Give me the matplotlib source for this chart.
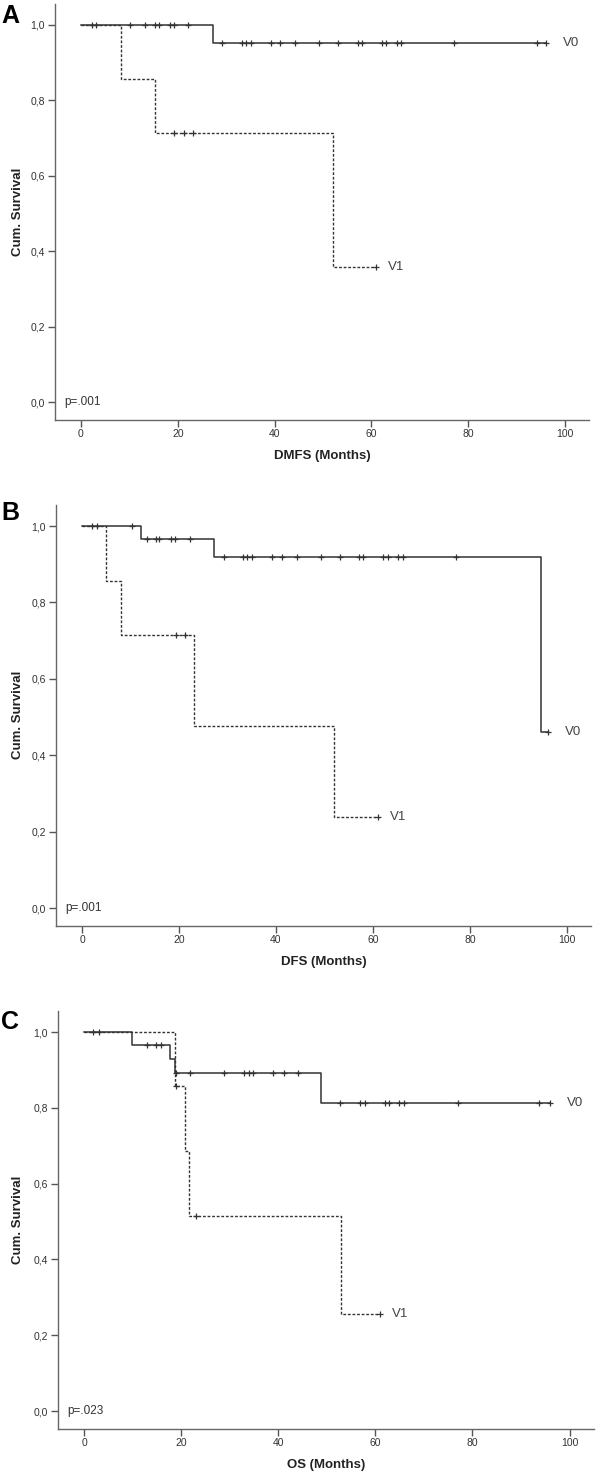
import matplotlib.pyplot as plt
import numpy as np

plt.rcParams['font.family'] = ['Liberation Sans', 'DejaVu Sans']

# ------------ DATA (months, cumulative survival) -------------
# Panel A - DMFS
dmfs_v0_events = [27.2]
dmfs_v0_surv = [0.952]
dmfs_v0_censored = [2.2, 3.1, 10.1, 13.2, 15.3, 16.2, 18.4, 19.3, 22.2,
                    29.2, 33.2, 34.1, 35.1, 39.2, 41.2, 44.3, 49.2, 53.2,
                    57.2, 58.0, 62.1, 63.0, 65.2, 66.1, 77.1, 94.2, 96.1]
dmfs_v1_events = [8.2, 15.3, 52.1]
dmfs_v1_surv = [0.857, 0.714, 0.357]
dmfs_v1_censored = [19.3, 21.3, 23.1, 61.0]

# Panel B - DFS
dfs_v0_events = [12.1, 27.3, 94.6]
dfs_v0_surv = [0.966, 0.920, 0.460]
dfs_v0_censored = [2.1, 3.0, 10.3, 13.3, 15.2, 15.9, 18.3, 19.2, 22.3,
                   29.2, 33.2, 34.1, 35.1, 39.2, 41.2, 44.3, 49.2, 53.2,
                   57.2, 58.0, 62.1, 63.0, 65.2, 66.1, 77.1, 96.1]
dfs_v1_events = [5.0, 8.0, 23.0, 52.0]
dfs_v1_surv = [0.857, 0.714, 0.476, 0.238]
dfs_v1_censored = [19.3, 21.3, 61.0]

# Panel C - OS
os_v0_events = [9.8, 17.8, 18.8, 48.9]
os_v0_surv = [0.967, 0.929, 0.891, 0.812]
os_v0_censored = [1.9, 3.0, 12.9, 14.9, 15.9, 19.0, 21.9, 28.9, 32.9, 33.9,
                  34.9, 39.0, 41.1, 44.0, 52.8, 56.9, 57.8, 61.9, 62.8, 64.8,
                  65.9, 77.0, 93.8, 95.9]
os_v1_events = [18.7, 20.9, 21.7, 53.0]
os_v1_surv = [0.857, 0.686, 0.514, 0.257]
os_v1_censored = [18.9, 23.0, 61.0]

panel_letters = ['A', 'B', 'C']
x_labels = ['DMFS (Months)', 'DFS (Months)', 'OS (Months)']
p_values = ['p=.001', 'p=.001', 'p=.023']
x_ticks = [0, 20, 40, 60, 80, 100]
y_ticks = [0.0, 0.2, 0.4, 0.6, 0.8, 1.0]
y_tick_labels = ['0,0', '0,2', '0,4', '0,6', '0,8', '1,0']

panels = [
    (dmfs_v0_events, dmfs_v0_surv, dmfs_v0_censored,
     dmfs_v1_events, dmfs_v1_surv, dmfs_v1_censored),
    (dfs_v0_events, dfs_v0_surv, dfs_v0_censored,
     dfs_v1_events, dfs_v1_surv, dfs_v1_censored),
    (os_v0_events, os_v0_surv, os_v0_censored,
     os_v1_events, os_v1_surv, os_v1_censored),
]

# ------------ LAYOUT (pixels) -------------
W, H = 600, 1478
XLIM = (-5.4, 105.0)
YLIM = (-0.047, 1.056)
# (pixel x of 0 months, pixel x of 100 months, pixel y of 1.0, pixel y of 0.0)
layout = [(81, 565, 25, 402), (82, 567, 526, 908), (84, 569.5, 1032, 1411)]
letter_y = [16, 513, 1022]

LINE = '#333333'


def km_curve(events, surv, censored):
    times = [0.0] + list(events)
    levels = [1.0] + list(surv)
    end = max(list(censored) + list(events))
    times.append(end)
    levels.append(levels[-1])
    # survival at each censored time
    idx = np.searchsorted(np.array(events), np.array(censored), side='right')
    cens_y = np.array([1.0] + list(surv))[idx]
    return times, levels, cens_y


fig = plt.figure(figsize=(W / 100, H / 100), dpi=100)

for i, data in enumerate(panels):
    x0, x100, y1, y0 = layout[i]
    px_x = (x100 - x0) / 100.0
    px_y = (y0 - y1)
    left = x0 + XLIM[0] * px_x
    right = x0 + XLIM[1] * px_x
    top = y1 - (YLIM[1] - 1.0) * px_y
    bottom = y0 - YLIM[0] * px_y
    ax = fig.add_axes([left / W, 1 - bottom / H, (right - left) / W, (bottom - top) / H])

    v0e, v0s, v0c, v1e, v1s, v1c = data

    # V1 dashed first so V0 sits on top
    t, s, cy = km_curve(v1e, v1s, v1c)
    ax.step(t, s, where='post', color=LINE, lw=1.0, linestyle=(0, (2, 1.3)))
    ax.plot(v1c, cy, linestyle='none', marker='+', ms=5, mew=0.9, color=LINE)
    ax.text(63.5, s[-1], 'V1', fontsize=9.5, color='#444444', va='center', ha='left')

    t, s, cy = km_curve(v0e, v0s, v0c)
    ax.step(t, s, where='post', color=LINE, lw=1.1)
    ax.plot(v0c, cy, linestyle='none', marker='+', ms=5, mew=0.9, color=LINE)
    ax.text(99.5, s[-1], 'V0', fontsize=9.5, color='#444444', va='center', ha='left')

    ax.text(-3.5, 0.0, p_values[i], fontsize=8.5, color='#333333', va='center', ha='left')

    ax.set_xlim(XLIM)
    ax.set_ylim(YLIM)
    ax.set_xticks(x_ticks)
    ax.set_yticks(y_ticks)
    ax.set_yticklabels(y_tick_labels)

    for side in ['top', 'right']:
        ax.spines[side].set_visible(False)
    for side in ['left', 'bottom']:
        ax.spines[side].set_color('#666666')
        ax.spines[side].set_linewidth(1.0)
    ax.tick_params(axis='both', direction='out', length=5, width=1.0,
                   color='#555555', labelsize=7.5, labelcolor='#333333')
    ax.tick_params(axis='x', pad=1.5)
    ax.tick_params(axis='y', pad=2)

    ax.set_xlabel(x_labels[i], fontsize=9.5, fontweight='bold', color='#222222')
    ax.xaxis.set_label_coords(0.5, -36 / (bottom - top))
    ax.set_ylabel('Cum. Survival', fontsize=9.5, fontweight='bold', color='#222222')
    ax.yaxis.set_label_coords((18 - left) / (right - left), 0.5)
    ax.yaxis.label.set_va('center')
    ax.xaxis.label.set_va('center')

    fig.text(10 / W, 1 - letter_y[i] / H, panel_letters[i], fontsize=18,
             fontweight='bold', ha='center', va='center')

fig.savefig('out.png', dpi=100)
